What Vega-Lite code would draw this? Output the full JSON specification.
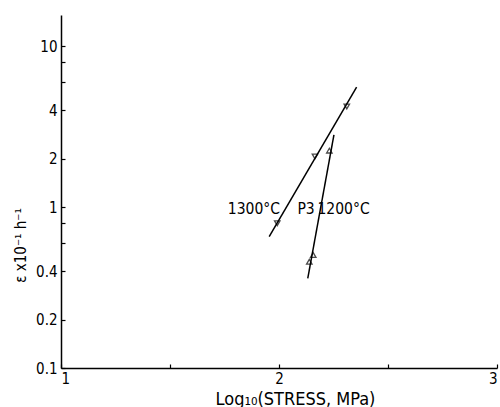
{
  "$schema": "https://vega.github.io/schema/vega-lite/v6.json",
  "autosize": {"type": "none"},
  "padding": {"left": 61, "top": 15, "right": 3, "bottom": 39},
  "width": 436,
  "height": 353,
  "background": "white",
  "config": {
    "view": {"stroke": null},
    "font": "DejaVu Sans Condensed",
    "axis": {
      "grid": false,
      "domainColor": "black",
      "domainWidth": 1.5,
      "tickColor": "black",
      "tickWidth": 1.2,
      "labelColor": "black",
      "titleColor": "black",
      "labelFont": "DejaVu Sans Condensed",
      "titleFont": "DejaVu Sans Condensed",
      "labelFontSize": 15,
      "titleFontSize": 18,
      "titleFontWeight": "normal"
    }
  },
  "datasets": {
    "lines": [
      {"series": "1300°C", "x": 1.955, "y": 0.656},
      {"series": "1300°C", "x": 2.356, "y": 5.59},
      {"series": "1200°C", "x": 2.132, "y": 0.361},
      {"series": "1200°C", "x": 2.252, "y": 2.82}
    ],
    "points": [
      {"series": "1300°C", "x": 1.992, "y": 0.795},
      {"series": "1300°C", "x": 2.165, "y": 2.07},
      {"series": "1300°C", "x": 2.311, "y": 4.23},
      {"series": "1200°C", "x": 2.139, "y": 0.458},
      {"series": "1200°C", "x": 2.157, "y": 0.505},
      {"series": "1200°C", "x": 2.231, "y": 2.25}
    ],
    "labels": [
      {"text": "1300°C", "x": 1.885, "y": 0.969},
      {"text": "P3", "x": 2.124, "y": 0.969},
      {"text": "1200°C", "x": 2.296, "y": 0.969}
    ]
  },
  "layer": [
    {
      "data": {"name": "lines"},
      "mark": {"type": "line", "color": "black", "strokeWidth": 1.5},
      "encoding": {
        "x": {
          "field": "x", "type": "quantitative",
          "scale": {"domain": [1, 3], "nice": false, "zero": false},
          "axis": {
            "title": "Log₁₀(STRESS, MPa)",
            "values": [1, 1.5, 2, 2.5, 3],
            "labelExpr": "datum.value == 1.5 || datum.value == 2.5 ? '' : format(datum.value, 'd')",
            "tickSize": -4,
            "labelPadding": 7,
            "titleX": 234,
            "titleY": 31,
            "titleBaseline": "middle",
            "titleAlign": "center"
          }
        },
        "y": {
          "field": "y", "type": "quantitative",
          "scale": {"type": "log", "domain": [0.1, 15.7], "nice": false},
          "axis": {
            "title": "ε x10⁻¹ h⁻¹",
            "titleFontSize": 15,
            "values": [0.1, 0.2, 0.4, 0.6, 0.8, 1, 2, 4, 6, 8, 10],
            "format": "~g",
            "labelExpr": "indexof([0.6, 0.8, 6, 8], datum.value) >= 0 ? '' : datum.label",
            "tickSize": -4,
            "labelPadding": 8,
            "titleX": -41,
            "titleY": 230,
            "titleBaseline": "middle",
            "titleAlign": "center"
          }
        },
        "detail": {"field": "series"}
      }
    },
    {
      "data": {"name": "points"},
      "mark": {"type": "point", "filled": false, "color": "black", "strokeWidth": 1.3, "size": 30},
      "encoding": {
        "x": {"field": "x", "type": "quantitative"},
        "y": {"field": "y", "type": "quantitative"},
        "shape": {
          "field": "series", "type": "nominal",
          "scale": {"domain": ["1300°C", "1200°C"], "range": ["triangle-down", "triangle-up"]},
          "legend": null
        }
      }
    },
    {
      "data": {"name": "labels"},
      "mark": {"type": "text", "color": "black", "fontSize": 15.5, "baseline": "middle", "align": "center", "font": "DejaVu Sans Condensed"},
      "encoding": {
        "x": {"field": "x", "type": "quantitative"},
        "y": {"field": "y", "type": "quantitative"},
        "text": {"field": "text"}
      }
    }
  ]
}
